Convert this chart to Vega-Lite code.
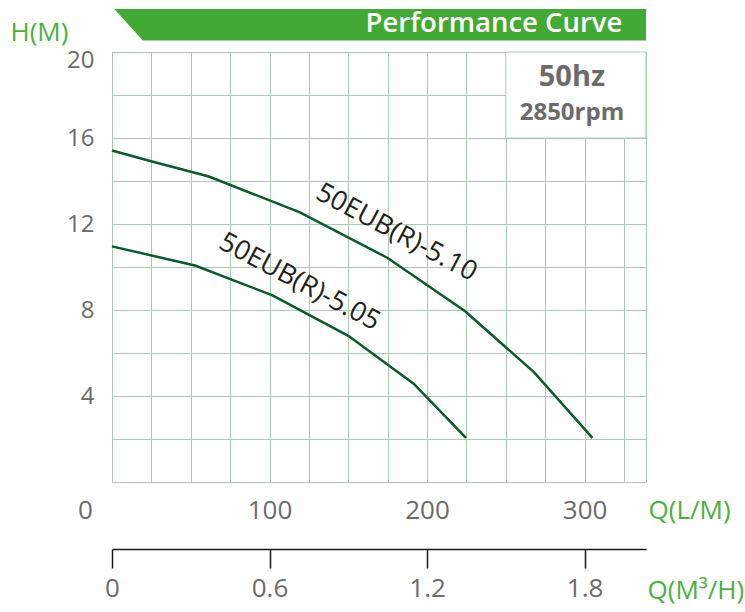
{
  "$schema": "https://vega.github.io/schema/vega-lite/v6.json",
  "width": 534,
  "height": 430,
  "autosize": {"type": "none"},
  "padding": {"left": 112, "top": 52, "right": 99, "bottom": 130},
  "background": "white",
  "config": {"font": "Open Sans", "view": {"stroke": "#a9cbb5", "strokeWidth": 1}},
  "datasets": {
    "curves": [
      {"s": "50EUB(R)-5.10", "q": 0, "h": 15.42},
      {"s": "50EUB(R)-5.10", "q": 25.4, "h": 14.91},
      {"s": "50EUB(R)-5.10", "q": 61.5, "h": 14.21},
      {"s": "50EUB(R)-5.10", "q": 119.3, "h": 12.54},
      {"s": "50EUB(R)-5.10", "q": 175, "h": 10.42},
      {"s": "50EUB(R)-5.10", "q": 224.2, "h": 7.94},
      {"s": "50EUB(R)-5.10", "q": 268, "h": 5.1},
      {"s": "50EUB(R)-5.10", "q": 305, "h": 2.05},
      {"s": "50EUB(R)-5.05", "q": 0, "h": 10.96},
      {"s": "50EUB(R)-5.05", "q": 52.7, "h": 10.07},
      {"s": "50EUB(R)-5.05", "q": 101.9, "h": 8.68},
      {"s": "50EUB(R)-5.05", "q": 150, "h": 6.8},
      {"s": "50EUB(R)-5.05", "q": 191.5, "h": 4.57},
      {"s": "50EUB(R)-5.05", "q": 224.7, "h": 2.05}
    ],
    "banner": [
      {"q": 1.5, "h": 22.0, "h2": 22.0},
      {"q": 19.6, "h": 22.0, "h2": 20.54},
      {"q": 339, "h": 22.0, "h2": 20.54}
    ],
    "labels": [
      {"s": "50EUB(R)-5.10", "q": 180.5, "h": 11.6},
      {"s": "50EUB(R)-5.05", "q": 119, "h": 9.3}
    ],
    "m3h": [{"m3h": 0}, {"m3h": 2.034}]
  },
  "layer": [
    {
      "layer": [
        {
          "data": {"name": "curves"},
          "mark": {"type": "line", "color": "#0b5a2b", "strokeWidth": 2.5},
          "encoding": {
            "x": {
              "field": "q", "type": "quantitative", "title": "Q(L/M)",
              "scale": {"domain": [0, 339], "nice": false, "zero": false},
              "axis": {
                "values": [0, 25, 50, 75, 100, 125, 150, 175, 200, 225, 250, 275, 300, 325],
                "labelExpr": "datum.value % 100 == 0 ? datum.label : ''",
                "grid": true, "gridColor": "#a9cbb5", "gridWidth": 1, "gridOpacity": 1,
                "domain": false, "ticks": false, "tickSize": 0,
                "labelFontSize": 26, "labelColor": "#6b6b6b", "labelBaseline": "middle",
                "labelPadding": 28, "labelFlush": false, "labelOverlap": false,
                "labelOffset": {"condition": {"test": "datum.value == 0", "value": -27}, "value": 0},
                "titleFontSize": 26, "titleColor": "#4cb03f", "titleFontWeight": "normal",
                "titleAlign": "left", "titleBaseline": "middle", "titleAnchor": "start",
                "titleX": 536, "titleY": 28
              }
            },
            "y": {
              "field": "h", "type": "quantitative", "title": "H(M)",
              "scale": {"domain": [0, 20], "nice": false},
              "axis": {
                "values": [0, 2, 4, 6, 8, 10, 12, 14, 16, 18, 20],
                "labelExpr": "datum.value % 4 == 0 && datum.value > 0 ? datum.label : ''",
                "grid": true, "gridColor": "#a9cbb5", "gridWidth": 1, "gridOpacity": 1,
                "domain": false, "ticks": false, "tickSize": 0,
                "labelFontSize": 24, "labelColor": "#6b6b6b", "labelBaseline": "middle",
                "labelPadding": 18, "labelFlush": false, "labelOverlap": false,
                "labelOffset": {"condition": {"test": "datum.value == 20", "value": 8}, "value": 0},
                "titleFontSize": 26, "titleColor": "#4cb03f", "titleFontWeight": "normal",
                "titleAngle": 0, "titleAlign": "left", "titleBaseline": "middle",
                "titleX": -102, "titleY": -20
              }
            },
            "detail": {"field": "s"}
          }
        },
        {
          "data": {"values": [{}]},
          "mark": {"type": "rect", "fill": "white", "stroke": "#a9cbb5", "strokeWidth": 1},
          "encoding": {
            "x": {"datum": 250, "type": "quantitative", "title": "Q(L/M)"},
            "x2": {"datum": 339},
            "y": {"datum": 16, "type": "quantitative", "title": "H(M)"},
            "y2": {"datum": 20}
          }
        },
        {
          "data": {"name": "banner"},
          "mark": {"type": "area", "color": "#43a935", "opacity": 1, "clip": false},
          "encoding": {
            "x": {"field": "q", "type": "quantitative", "title": "Q(L/M)"},
            "y": {"field": "h", "type": "quantitative", "title": "H(M)"},
            "y2": {"field": "h2"}
          }
        },
        {
          "data": {"name": "labels"},
          "mark": {"type": "text", "angle": 28, "fontSize": 27, "color": "#231f20", "align": "center", "baseline": "middle"},
          "encoding": {
            "x": {"field": "q", "type": "quantitative", "title": "Q(L/M)"},
            "y": {"field": "h", "type": "quantitative", "title": "H(M)"},
            "text": {"field": "s"}
          }
        },
        {
          "data": {"values": [{}]},
          "mark": {"type": "text", "text": "Performance Curve", "fontSize": 27.5, "fontWeight": 600, "color": "white", "align": "right", "baseline": "middle"},
          "encoding": {
            "x": {"datum": 324, "type": "quantitative", "title": "Q(L/M)"},
            "y": {"datum": 21.28, "type": "quantitative", "title": "H(M)"}
          }
        },
        {
          "data": {"values": [{}]},
          "mark": {"type": "text", "text": "50hz", "fontSize": 29, "fontWeight": "bold", "color": "#6b6b6b", "align": "center", "baseline": "middle"},
          "encoding": {
            "x": {"datum": 292, "type": "quantitative", "title": "Q(L/M)"},
            "y": {"datum": 18.83, "type": "quantitative", "title": "H(M)"}
          }
        },
        {
          "data": {"values": [{}]},
          "mark": {"type": "text", "text": "2850rpm", "fontSize": 24, "fontWeight": "bold", "color": "#6b6b6b", "align": "center", "baseline": "middle"},
          "encoding": {
            "x": {"datum": 292, "type": "quantitative", "title": "Q(L/M)"},
            "y": {"datum": 17.18, "type": "quantitative", "title": "H(M)"}
          }
        }
      ]
    },
    {
      "data": {"name": "m3h"},
      "mark": {"type": "point", "opacity": 0},
      "encoding": {
        "x": {
          "field": "m3h", "type": "quantitative", "title": "Q(M³/H)",
          "scale": {"domain": [0, 2.034], "nice": false, "zero": false},
          "axis": {
            "orient": "bottom", "offset": 67,
            "values": [0, 0.6, 1.2, 1.8],
            "labelExpr": "datum.value == 0 ? '0' : format(datum.value, '.1f')",
            "grid": false,
            "domain": true, "domainColor": "#1a1a1a", "domainWidth": 1.5,
            "ticks": true, "tickColor": "#1a1a1a", "tickWidth": 1.5, "tickSize": 19,
            "labelFontSize": 26, "labelColor": "#6b6b6b", "labelBaseline": "middle",
            "labelPadding": 20, "labelFlush": false, "labelOverlap": false,
            "titleFontSize": 26, "titleColor": "#4cb03f", "titleFontWeight": "normal",
            "titleAlign": "left", "titleBaseline": "middle", "titleAnchor": "start",
            "titleX": 535, "titleY": 41
          }
        }
      }
    }
  ],
  "resolve": {"scale": {"x": "independent"}}
}
